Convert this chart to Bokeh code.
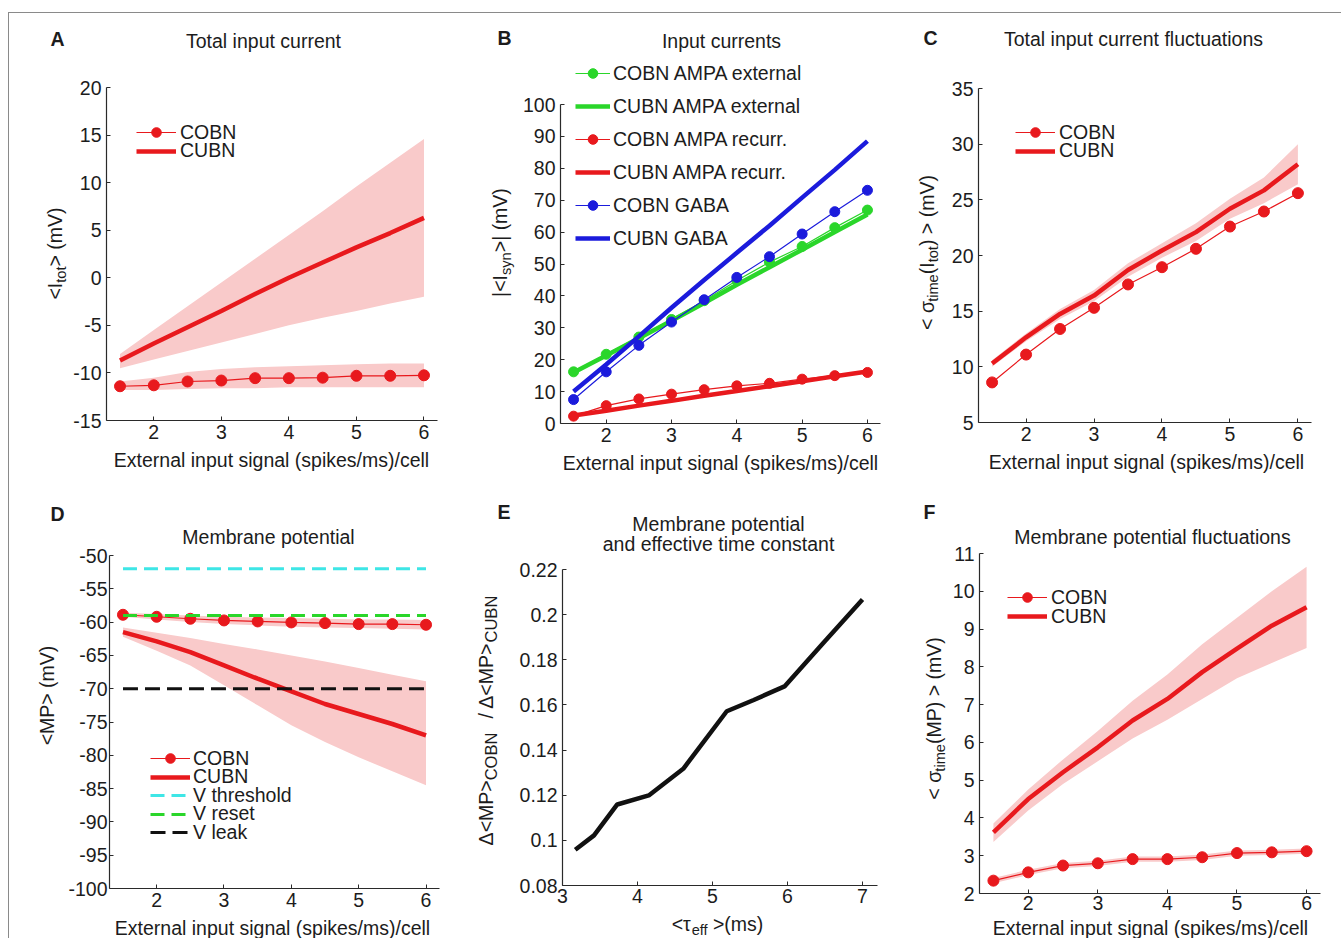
import math
from bokeh.plotting import figure
from bokeh.layouts import row, column
from bokeh.models import Range1d, FixedTicker, Label, Legend, LegendItem, Spacer
from bokeh.embed import file_html
from bokeh.resources import INLINE

# ---------------- data ----------------
signal = [1.5, 2.0, 2.5, 3.0, 3.5, 4.0, 4.5, 5.0, 5.5, 6.0]

# A: total input current <I_tot> (mV)
itot_cobn = [-11.4, -11.3, -10.9, -10.8, -10.55, -10.55, -10.5, -10.3, -10.3, -10.25]
itot_cobn_lo = [-11.8, -11.8, -11.7, -11.6, -11.6, -11.5, -11.5, -11.5, -11.5, -11.5]
itot_cobn_hi = [-10.9, -10.5, -9.9, -9.6, -9.4, -9.3, -9.2, -9.1, -9.0, -9.0]
itot_cubn = [-8.7, -6.9, -5.2, -3.5, -1.7, 0.0, 1.6, 3.2, 4.7, 6.3]
itot_cubn_lo = [-9.5, -8.6, -7.7, -6.8, -5.9, -5.0, -4.2, -3.5, -2.7, -2.0]
itot_cubn_hi = [-8.0, -5.5, -3.0, -0.5, 2.0, 4.5, 7.0, 9.6, 12.1, 14.6]

# B: synaptic input currents |<I_syn>| (mV)
ext_cobn = [16.2, 21.7, 27.1, 32.6, 38.5, 44.8, 50.6, 55.5, 61.4, 66.9]
ext_cubn = [16.0, 21.3, 26.7, 32.2, 37.8, 43.5, 49.0, 54.5, 60.0, 65.5]
rec_cobn = [2.3, 5.6, 7.7, 9.2, 10.6, 11.8, 12.6, 13.9, 15.0, 16.0]
rec_cubn = [2.5, 4.0, 5.6, 7.1, 8.7, 10.2, 11.7, 13.2, 14.8, 16.3]
gaba_cobn = [7.5, 16.2, 24.5, 31.8, 38.8, 45.8, 52.3, 59.4, 66.4, 73.1]
gaba_cubn = [10.0, 18.5, 27.3, 36.3, 45.0, 53.5, 62.0, 70.8, 79.5, 88.5]

# C: total input current fluctuations (mV)
sitot_cobn = [8.6, 11.1, 13.4, 15.3, 17.4, 18.95, 20.6, 22.6, 23.95, 25.6]
sitot_cubn = [10.3, 12.65, 14.75, 16.4, 18.7, 20.45, 22.1, 24.2, 25.85, 28.2]
sitot_cubn_lo = [10.0, 12.3, 14.3, 15.9, 18.1, 19.8, 21.3, 23.3, 24.7, 26.4]
sitot_cubn_hi = [10.6, 13.0, 15.2, 16.9, 19.3, 21.1, 22.9, 25.1, 27.0, 30.0]

# D: membrane potential <MP> (mV)
mp_cobn = [-58.9, -59.2, -59.5, -59.75, -59.9, -60.05, -60.15, -60.3, -60.3, -60.4]
mp_cobn_lo = [-59.2, -59.6, -60.0, -60.3, -60.5, -60.7, -60.8, -60.9, -61.0, -61.1]
mp_cobn_hi = [-58.6, -58.8, -59.0, -59.2, -59.3, -59.4, -59.5, -59.6, -59.6, -59.7]
mp_cubn = [-61.5, -62.9, -64.5, -66.5, -68.5, -70.4, -72.3, -73.8, -75.3, -77.0]
mp_cubn_lo = [-62.2, -64.3, -66.5, -69.5, -72.5, -75.5, -78.0, -80.3, -82.4, -84.5]
mp_cubn_hi = [-60.8, -61.6, -62.4, -63.3, -64.1, -65.0, -65.9, -66.9, -67.9, -68.9]
v_threshold = -52.0
v_reset = -59.0
v_leak = -70.0

# E: ratio of membrane potential shifts vs effective time constant
tau_eff = [3.17, 3.42, 3.73, 4.15, 4.61, 5.19, 5.55, 5.96, 6.48, 7.0]
mp_ratio = [0.0958, 0.1022, 0.1159, 0.1199, 0.1317, 0.1572, 0.1622, 0.1682, 0.1875, 0.2067]

# F: membrane potential fluctuations (mV)
smp_cobn = [2.34, 2.56, 2.74, 2.80, 2.91, 2.91, 2.96, 3.07, 3.09, 3.12]
smp_cobn_lo = [2.27, 2.49, 2.67, 2.73, 2.84, 2.84, 2.89, 3.0, 3.02, 3.05]
smp_cobn_hi = [2.41, 2.63, 2.81, 2.87, 2.98, 2.98, 3.03, 3.14, 3.16, 3.19]
smp_cubn = [3.62, 4.50, 5.21, 5.87, 6.58, 7.15, 7.86, 8.48, 9.09, 9.58]
smp_cubn_lo = [3.36, 4.2, 4.9, 5.5, 6.1, 6.6, 7.15, 7.7, 8.1, 8.5]
smp_cubn_hi = [3.85, 4.75, 5.55, 6.3, 7.1, 7.8, 8.6, 9.3, 10.0, 10.65]

signal_ticks = [2, 3, 4, 5, 6]
XLABEL = "External input signal (spikes/ms)/cell"

# ---------------- styling ----------------
FONT = "Liberation Sans"
FS = 19.5
TXT = "#1c1c1c"
AX = "#2a2a2a"
RED = "#e8191d"
BAND = "#f9caca"
GREEN = "#2ad62a"
BLUE = "#1b1bdc"
CYAN = "#3ee6e6"
BLACK = "#111111"

# Arial-compatible advance widths (per 1000 em) for composing labels
ADV = {' ': 278, '<': 584, '>': 584, '(': 333, ')': 333, '|': 260, '/': 278,
       'I': 278, 'M': 833, 'P': 667, 'V': 667, 'C': 722, 'O': 778, 'B': 667,
       'N': 722, 'U': 722, 'Δ': 668, 'σ': 575, 'τ': 440, 'm': 833, 's': 500,
       'e': 556, 'f': 278, 't': 278, 'o': 556, 'y': 500, 'n': 556, 'i': 222}

FRAMES = {}


def text_width(s, size):
    return sum(ADV.get(c, 556) for c in s) * size / 1000.0


def hyphen_labels(ticks):
    return {t: (f"{t:g}" if t >= 0 else "-" + f"{-t:g}") for t in ticks}


def strip(x0, y0, x1, y1):
    """Text-only canvas covering a page rectangle."""
    s = figure(width=x1 - x0, height=y1 - y0, x_range=Range1d(0, 1), y_range=Range1d(0, 1),
               x_axis_type=None, y_axis_type=None, output_backend="svg",
               toolbar_location=None, min_border=0)
    s.outline_line_color = None
    s.grid.visible = False
    FRAMES[s.id] = (x0, y0, x1, y1)
    return s


def make_panel(box, split_x, split_y, frame, xr, yr, xticks, yticks,
               yoverrides=None, ystandoff=5, xstandoff=4):
    """Plot canvas whose frame reaches the panel top; the y axis line stops at yr[1]."""
    X0, Y0, X1, Y1 = box
    L, T, R, B = frame
    y_top = yr[1] + (T - Y0) / (B - T) * (yr[1] - yr[0])
    p = figure(width=X1 - split_x, height=split_y - Y0,
               x_range=Range1d(*xr), y_range=Range1d(yr[0], y_top),
               output_backend="svg", toolbar_location=None,
               min_border_left=L - split_x, min_border_right=X1 - R,
               min_border_top=0, min_border_bottom=split_y - B)
    p.outline_line_color = None
    p.grid.visible = False
    p.xaxis.ticker = FixedTicker(ticks=xticks)
    p.yaxis.ticker = FixedTicker(ticks=yticks)
    p.yaxis.bounds = (yr[0], yr[1])
    p.yaxis.major_label_overrides = yoverrides or hyphen_labels(yticks)
    for ax in (p.xaxis[0], p.yaxis[0]):
        ax.axis_line_color = AX
        ax.axis_line_width = 1.2
        ax.major_tick_line_color = AX
        ax.major_tick_in = 4
        ax.major_tick_out = 0
        ax.minor_tick_line_color = None
        ax.major_label_text_font = FONT
        ax.major_label_text_font_size = f"{FS}px"
        ax.major_label_text_color = TXT
    p.yaxis.major_label_standoff = ystandoff
    p.xaxis.major_label_standoff = xstandoff
    FRAMES[p.id] = (L, Y0, R, B)
    left = strip(X0, Y0, split_x, split_y)
    # the strip's frame is aligned with the plot frame inside the row
    FRAMES[left.id] = (X0, Y0, split_x, B)
    bottom = strip(X0, split_y, X1, Y1)
    lay = column(row(left, p), bottom)
    return p, left, bottom, lay


def put_text(p, x, y, text, size=FS, align="center", angle=0.0, bold=False):
    # x, y are page pixel positions of the text's centre line
    L, T, R, B = FRAMES[p.id]
    p.add_layout(Label(x=x - L, y=B - y, x_units="screen", y_units="screen",
                       text=text, text_font=FONT, text_font_size=f"{size}px",
                       text_align=align, text_baseline="middle", angle=angle,
                       text_font_style="bold" if bold else "normal",
                       text_color=TXT))


def rich_text(p, pieces, center, mid, size=FS, vertical=False, sub_scale=0.75):
    """pieces: (text, is_subscript) or (None, gap_in_px)."""
    def width(piece):
        t, s = piece
        if t is None:
            return s
        return text_width(t, size * sub_scale if s else size)
    widths = [width(pc) for pc in pieces]
    u = -sum(widths) / 2.0
    for (t, s), w in zip(pieces, widths):
        if t is not None:
            fs = size * sub_scale if s else size
            shift = 0.32 * size if s else 0.0
            if vertical:
                put_text(p, mid + shift, center - u, t, fs, align="left", angle=math.pi / 2)
            else:
                put_text(p, center + u, mid + shift, t, fs, align="left")
        u += w


def add_legend(p, items, first_center, glyph_x, glyph_w, pitch, standoff=4, box=24):
    # one single-entry legend per item so the row pitch can be set freely
    L, T, R, B = FRAMES[p.id]
    for i, item in enumerate(items):
        c = first_center + i * pitch
        leg = Legend(items=[item], location=(glyph_x - L, B - (c + box / 2)),
                     background_fill_alpha=0, border_line_color=None,
                     label_text_font=FONT, label_text_font_size=f"{FS}px",
                     label_text_color=TXT, glyph_width=glyph_w, glyph_height=box,
                     label_height=box, spacing=0, padding=0, margin=0,
                     label_standoff=standoff)
        p.add_layout(leg)


def band(p, lo, hi, x=signal):
    p.varea(x=x, y1=lo, y2=hi, fill_color=BAND, fill_alpha=1.0)


def dotted_series(p, y, color, lw=1.2, size=11):
    ln = p.line(signal, y, line_color=color, line_width=lw)
    sc = p.scatter(signal, y, size=size, fill_color=color, line_color=color)
    return [ln, sc]


# ---------- A ----------
pA, lA, bA, layA = make_panel((9, 13, 455, 478), 70, 447, (105, 87, 437, 420),
                              (1.3, 6.2), (-15, 20), signal_ticks, list(range(-15, 21, 5)))
band(pA, itot_cubn_lo, itot_cubn_hi)
band(pA, itot_cobn_lo, itot_cobn_hi)
a_cubn = pA.line(signal, itot_cubn, line_color=RED, line_width=4.5)
a_cobn = dotted_series(pA, itot_cobn, RED)
add_legend(pA, [LegendItem(label="COBN", renderers=a_cobn),
                LegendItem(label="CUBN", renderers=[a_cubn])], 132, 135, 40, 18.5)
put_text(lA, 50, 38, "A", bold=True, align="left")
put_text(pA, 262, 40, "Total input current")
put_text(bA, 271, 459, XLABEL)
rich_text(lA, [("<I", 0), ("tot", 1), ("> (mV)", 0)], 253, 54, vertical=True)

# ---------- B ----------
pB, lB, bB, layB = make_panel((455, 13, 900, 478), 518, 450, (560, 104, 880, 423),
                              (1.3, 6.2), (0, 100), signal_ticks, list(range(0, 101, 10)))
b_ext_cubn = pB.line(signal, ext_cubn, line_color=GREEN, line_width=4.5)
b_ext_cobn = dotted_series(pB, ext_cobn, GREEN, size=10)
b_rec_cubn = pB.line(signal, rec_cubn, line_color=RED, line_width=4.5)
b_rec_cobn = dotted_series(pB, rec_cobn, RED, size=10)
b_gaba_cubn = pB.line(signal, gaba_cubn, line_color=BLUE, line_width=4.5)
b_gaba_cobn = dotted_series(pB, gaba_cobn, BLUE, size=10)
add_legend(pB, [LegendItem(label="COBN AMPA external", renderers=b_ext_cobn),
                LegendItem(label="CUBN AMPA external", renderers=[b_ext_cubn]),
                LegendItem(label="COBN AMPA recurr.", renderers=b_rec_cobn),
                LegendItem(label="CUBN AMPA recurr.", renderers=[b_rec_cubn]),
                LegendItem(label="COBN GABA", renderers=b_gaba_cobn),
                LegendItem(label="CUBN GABA", renderers=[b_gaba_cubn])],
           73, 575, 35, 33, standoff=3)
put_text(lB, 497, 37, "B", bold=True, align="left")
put_text(pB, 721, 40, "Input currents")
put_text(bB, 720, 462, XLABEL)
rich_text(lB, [("|<I", 0), ("syn", 1), (">| (mV)", 0)], 242, 499, vertical=True)

# ---------- C ----------
pC, lC, bC, layC = make_panel((900, 13, 1341, 478), 942, 449, (978, 88, 1311, 422),
                              (1.3, 6.2), (5, 35), signal_ticks, list(range(5, 36, 5)))
band(pC, sitot_cubn_lo, sitot_cubn_hi)
c_cubn = pC.line(signal, sitot_cubn, line_color=RED, line_width=4.5)
c_cobn = dotted_series(pC, sitot_cobn, RED)
add_legend(pC, [LegendItem(label="COBN", renderers=c_cobn),
                LegendItem(label="CUBN", renderers=[c_cubn])], 132, 1015, 40, 18.5)
put_text(lC, 923, 37, "C", bold=True, align="left")
put_text(pC, 1133, 38, "Total input current fluctuations")
put_text(bC, 1146, 461, XLABEL)
rich_text(lC, [("< σ", 0), ("time", 1), ("(I", 0), ("tot", 1), (") > (mV)", 0)],
          252, 926, vertical=True)

# ---------- D ----------
pD, lD, bD, layD = make_panel((9, 478, 455, 938), 65, 915, (107, 555, 439, 888),
                              (1.3, 6.2), (-100, -50), signal_ticks,
                              list(range(-100, -49, 5)), ystandoff=2)
band(pD, mp_cubn_lo, mp_cubn_hi)
band(pD, mp_cobn_lo, mp_cobn_hi)
d_cubn = pD.line(signal, mp_cubn, line_color=RED, line_width=4.5)
d_leak = pD.line(signal, [v_leak] * len(signal), line_color=BLACK, line_width=3,
                 line_dash="15 7")
d_thr = pD.line(signal, [v_threshold] * len(signal), line_color=CYAN, line_width=3,
                line_dash="14 7")
d_cobn = dotted_series(pD, mp_cobn, RED)
d_reset = pD.line(signal, [v_reset] * len(signal), line_color=GREEN, line_width=3,
                  line_dash="14 7")
add_legend(pD, [LegendItem(label="COBN", renderers=d_cobn),
                LegendItem(label="CUBN", renderers=[d_cubn]),
                LegendItem(label="V threshold", renderers=[d_thr]),
                LegendItem(label="V reset", renderers=[d_reset]),
                LegendItem(label="V leak", renderers=[d_leak])],
           758, 148, 40, 18.5, standoff=3)
put_text(lD, 50, 513, "D", bold=True, align="left")
put_text(pD, 266, 536, "Membrane potential")
put_text(bD, 272, 927, XLABEL)
rich_text(lD, [("<MP> (mV)", 0)], 695, 46, vertical=True)

# ---------- E ----------
e_ticks = [0.08, 0.1, 0.12, 0.14, 0.16, 0.18, 0.2, 0.22]
pE, lE, bE, layE = make_panel((455, 478, 900, 938), 512, 912, (562, 569, 877, 885),
                              (3, 7.2), (0.08, 0.22), [3, 4, 5, 6, 7], e_ticks,
                              yoverrides={t: f"{t:g}" for t in e_ticks}, xstandoff=3)
pE.line(tau_eff, mp_ratio, line_color=BLACK, line_width=4.5)
put_text(lE, 497, 511, "E", bold=True, align="left")
put_text(pE, 718, 523, "Membrane potential")
put_text(pE, 718, 543, "and effective time constant")
rich_text(bE, [("<τ", 0), ("eff", 1), (None, 5), (">(ms)", 0)], 717, 923)
rich_text(lE, [("Δ<MP>", 0), ("COBN", 1), (None, 14), ("/ Δ<MP>", 0), ("CUBN", 1)],
          720, 485, vertical=True, sub_scale=0.85)

# ---------- F ----------
pF, lF, bF, layF = make_panel((900, 478, 1341, 938), 947, 918, (979, 553, 1320, 893),
                              (1.3, 6.2), (2, 11), signal_ticks, list(range(2, 12)),
                              xstandoff=2)
band(pF, smp_cubn_lo, smp_cubn_hi)
band(pF, smp_cobn_lo, smp_cobn_hi)
f_cubn = pF.line(signal, smp_cubn, line_color=RED, line_width=4.5)
f_cobn = dotted_series(pF, smp_cobn, RED)
add_legend(pF, [LegendItem(label="COBN", renderers=f_cobn),
                LegendItem(label="CUBN", renderers=[f_cubn])], 597, 1007, 40, 19)
put_text(lF, 923, 511, "F", bold=True, align="left")
put_text(pF, 1152, 536, "Membrane potential fluctuations")
put_text(bF, 1150, 927, XLABEL)
rich_text(lF, [("< σ", 0), ("time", 1), ("(MP) > (mV)", 0)], 718, 933, vertical=True)

panels = column(row(layA, layB, layC), row(layD, layE, layF),
                styles={"border-top": "1px solid #8a8a8a",
                        "border-left": "1px solid #8a8a8a"})
root = row(Spacer(width=8, height=938),
           column(Spacer(width=1333, height=12), panels))

open("out.html", "w").write(file_html(root, INLINE))
